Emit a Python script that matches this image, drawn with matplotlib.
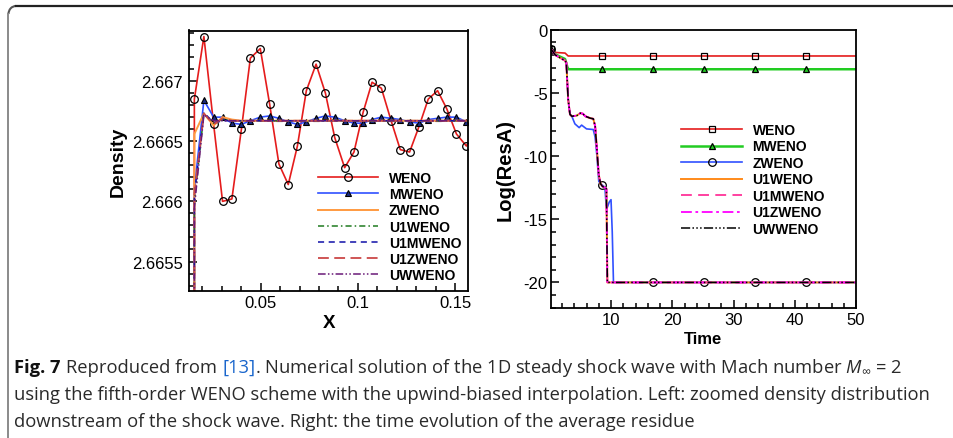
import numpy as np
import matplotlib
matplotlib.use("Agg")
import matplotlib.pyplot as plt
from matplotlib.ticker import MultipleLocator, FormatStrFormatter
from matplotlib.lines import Line2D
from matplotlib.patches import Arc

plt.rcParams['font.family'] = ['Liberation Sans', 'DejaVu Sans']
plt.rcParams['axes.unicode_minus'] = False
plt.rcParams['mathtext.fontset'] = 'custom'
plt.rcParams['mathtext.rm'] = 'Open Sans'
plt.rcParams['mathtext.it'] = 'Open Sans:italic'

# ---- left panel: density downstream of the shock ----
x_dens = [0.0111, 0.0159, 0.0208, 0.0258, 0.0304, 0.0352, 0.0401, 0.0447, 0.0498,
          0.0546, 0.0594, 0.0642, 0.0689, 0.0735, 0.0785, 0.0833, 0.0881, 0.0932,
          0.0980, 0.1027, 0.1073, 0.1121, 0.1171, 0.1218, 0.1266, 0.1314, 0.1362,
          0.1410, 0.1457, 0.1507, 0.1558, 0.1606]
rho_weno = [1.0, 2.66685, 2.66737, 2.66664, 2.66600, 2.66602, 2.66660, 2.66719, 2.66727,
            2.66681, 2.66631, 2.66614, 2.66646, 2.66692, 2.66714, 2.66690, 2.66653, 2.66628,
            2.66641, 2.66674, 2.66699, 2.66694, 2.66667, 2.66643, 2.66641, 2.66662, 2.66685,
            2.66692, 2.66677, 2.66656, 2.66646, 2.66660]
rho_mweno = [1.0, 2.66610, 2.66684, 2.66670, 2.66670, 2.66665, 2.66664, 2.66667, 2.66670,
             2.66671, 2.66669, 2.66666, 2.66664, 2.66666, 2.66669, 2.66671, 2.66670, 2.66667,
             2.66665, 2.66665, 2.66668, 2.66670, 2.66669, 2.66668, 2.66666, 2.66665, 2.66668,
             2.66669, 2.66670, 2.66670, 2.66666, 2.66667]
rho_zweno = [1.0, 2.66656, 2.66673, 2.66663, 2.66670, 2.66668] + [2.66667] * 26
rho_u1weno = [1.0, 2.66600, 2.66673, 2.66665, 2.66668] + [2.66667] * 27
rho_u1mweno = [1.0, 2.66605, 2.66674, 2.66665] + [2.66667] * 28
rho_u1zweno = [1.0, 2.66605, 2.66673, 2.66664, 2.66669] + [2.66667] * 27
rho_uwweno = [1.0, 2.66595, 2.66672] + [2.66667] * 29

# ---- right panel: residual history ----
t_weno = [0.2, 0.9, 2.5, 3.0, 8.55, 16.9, 25.2, 33.55, 41.9, 50]
res_weno = [-1.53, -1.8, -1.85, -2.08, -2.08, -2.08, -2.08, -2.08, -2.08, -2.08]
t_mweno = [0.2, 0.9, 2.5, 2.9, 3.1, 8.55, 16.9, 25.2, 33.55, 41.9, 50]
res_mweno = [-1.53, -1.95, -2.32, -3.0, -3.13, -3.13, -3.13, -3.13, -3.13, -3.13, -3.13]
t_zweno = [0.2, 0.9, 2.5, 2.7, 3.0, 3.3, 3.6, 4.1, 4.8, 5.2, 6.0, 7.1, 7.4, 7.7, 8.0,
           8.55, 9.0, 9.2, 9.4, 9.7, 10.0, 10.2, 10.4, 16.9, 25.2, 33.55, 41.9, 50]
res_zweno = [-1.53, -2.0, -2.45, -2.6, -5.5, -6.7, -6.85, -7.45, -7.75, -7.55, -7.85,
             -7.9, -8.5, -10.0, -12.0, -12.3, -12.45, -13.9, -14.05, -13.65, -13.45,
             -16.0, -20.0, -20.0, -20.0, -20.0, -20.0, -20.0]
t_upw = [0.2, 0.9, 2.5, 2.7, 3.0, 3.3, 3.6, 4.4, 5.0, 5.4, 5.8, 6.6, 7.1, 7.4, 7.7,
         8.0, 8.3, 8.6, 9.0, 9.25, 9.4, 50]
res_upw = [-1.53, -2.0, -2.45, -2.6, -5.5, -6.7, -6.85, -6.8, -6.6, -6.65, -6.85, -7.0,
           -7.05, -7.6, -9.5, -11.5, -12.2, -12.4, -12.5, -12.6, -20.0, -20.0]

W, H = 954, 439
fig = plt.figure(figsize=(W / 100, H / 100), dpi=100)

ax1 = fig.add_axes([189.5 / W, 1 - 292 / H, 278.8 / W, 260.5 / H])
ax2 = fig.add_axes([551 / W, 1 - 308.7 / H, 305 / W, 278 / H])

mk = dict(markerfacecolor='none', markeredgecolor='black', markeredgewidth=0.9)
ax1.plot(x_dens, rho_weno, color='#e51c1c', lw=1.2, marker='o', ms=5.5,
         markevery=slice(1, None), label='WENO', **mk)
ax1.plot(x_dens, rho_mweno, color='#3050ff', lw=1.2, marker='^', ms=5,
         markevery=slice(2, None), label='MWENO', markerfacecolor='#1a2a80',
         markeredgecolor='black', markeredgewidth=0.8)
ax1.plot(x_dens, rho_zweno, color='#ff9a40', lw=1.4, label='ZWENO')
ax1.plot(x_dens, rho_u1weno, color='#1f7a1f', lw=1.1, dashes=(4, 2, 1, 2), label='U1WENO')
ax1.plot(x_dens, rho_u1mweno, color='#1010a8', lw=1.1, dashes=(4, 3), label='U1MWENO')
ax1.plot(x_dens, rho_u1zweno, color='#cc4848', lw=1.3, dashes=(6, 3), label='U1ZWENO')
ax1.plot(x_dens, rho_uwweno, color='#6a1a78', lw=1.1, dashes=(5, 1.5, 1, 1.5, 1, 1.5),
         label='UWWENO')

ax1.set_xlim(0.0134, 0.1568)
ax1.set_ylim(2.665255, 2.66742)
ax1.xaxis.set_major_locator(MultipleLocator(0.05))
ax1.xaxis.set_minor_locator(MultipleLocator(0.01))
ax1.yaxis.set_major_locator(MultipleLocator(0.0005))
ax1.yaxis.set_minor_locator(MultipleLocator(0.0001))
ax1.xaxis.set_major_formatter(FormatStrFormatter('%g'))
ax1.yaxis.set_major_formatter(FormatStrFormatter('%g'))
ax1.set_xlabel('X', fontsize=13.5, fontweight='bold', labelpad=3)
ax1.set_ylabel('Density', fontsize=14, fontweight='bold', labelpad=4)

ax2.plot(t_weno, res_weno, color='#e51c1c', lw=1.2, marker='s', ms=5,
         markevery=[0, 4, 5, 6, 7, 8], label='WENO', **mk)
ax2.plot(t_mweno, res_mweno, color='#22cc22', lw=1.8, marker='^', ms=5,
         markevery=[0, 5, 6, 7, 8, 9], label='MWENO', markerfacecolor='#22cc22',
         markeredgecolor='black', markeredgewidth=0.9)
ax2.plot(t_zweno, res_zweno, color='#3050ff', lw=1.2, marker='o', ms=5.5,
         markevery=[0, 15, 23, 24, 25, 26], label='ZWENO', **mk)
ax2.plot(t_upw, res_upw, color='#ff8a1a', lw=1.4, label='U1WENO')
ax2.plot(t_upw, res_upw, color='#ff3399', lw=1.3, dashes=(6, 3.5), label='U1MWENO')
ax2.plot(t_upw, res_upw, color='#ff00ff', lw=1.3, dashes=(6, 2, 1.5, 2), label='U1ZWENO')
ax2.plot(t_upw, res_upw, color='black', lw=1.1, dashes=(6, 1.5, 1, 1.5, 1, 1.5, 1, 1.5),
         label='UWWENO')

ax2.set_xlim(0.2, 50)
ax2.set_ylim(-22, 0)
ax2.xaxis.set_major_locator(MultipleLocator(10))
ax2.xaxis.set_minor_locator(MultipleLocator(2))
ax2.yaxis.set_major_locator(MultipleLocator(5))
ax2.yaxis.set_minor_locator(MultipleLocator(1))
ax2.set_xlabel('Time', fontsize=12, fontweight='bold', labelpad=3)
ax2.set_ylabel('Log(ResA)', fontsize=14.5, fontweight='bold', labelpad=6)

for ax, ypad in ((ax1, 4.5), (ax2, 2.5)):
    for s in ax.spines.values():
        s.set_linewidth(1.3)
    ax.tick_params(which='both', direction='in', top=False, right=False, labelsize=12, width=1.1)
    ax.tick_params(which='major', length=6)
    ax.tick_params(which='minor', length=3.5)
    ax.tick_params(axis='y', pad=ypad)
    ax.tick_params(axis='x', pad=3)

leg_font = dict(weight='bold', size=10)
ax1.legend(loc='upper left', bbox_to_anchor=(318 / W, 1 - 172 / H), bbox_transform=fig.transFigure,
           frameon=False, prop=leg_font, handlelength=4.3, handletextpad=0.8,
           labelspacing=0.16, borderpad=0, borderaxespad=0)
ax2.legend(loc='upper left', bbox_to_anchor=(681 / W, 1 - 124 / H), bbox_transform=fig.transFigure,
           frameon=False, prop=leg_font, handlelength=4.4, handletextpad=0.75,
           labelspacing=0.18, borderpad=0, borderaxespad=0)

# ---- frame round the figure ----
fig.add_artist(Line2D([16 / W, 1], [1 - 7 / H, 1 - 7 / H], transform=fig.transFigure,
                      color='#222222', lw=1.6))
fig.add_artist(Line2D([8.5 / W, 8.5 / W], [0, 1 - 15 / H], transform=fig.transFigure,
                      color='#8a8a8a', lw=1.4))
fig.add_artist(Arc((16 / W, 1 - 15 / H), 15 / W, 16 / H, theta1=90, theta2=180,
                   transform=fig.transFigure, color='#555555', lw=1.5))

# ---- caption ----
cap_font = ['Open Sans', 'DejaVu Sans']
cap_size = 13.2
renderer = fig.canvas.get_renderer()


def put(xp, yp, s, **kw):
    t = fig.text(xp / W, 1 - yp / H, s, va='baseline', family=cap_font, fontsize=cap_size, **kw)
    return t.get_window_extent(renderer).x1


x = put(14, 373, 'Fig. 7', weight='bold', color='#111111')
x = put(x + 6, 373, 'Reproduced from ', color='#2a2a2a')
x = put(x, 373, '[13]', color='#1a66cc')
put(x, 373, '. Numerical solution of the 1D steady shock wave with Mach number $M_{\\infty}$ = 2',
    color='#2a2a2a')
put(14, 400, 'using the fifth-order WENO scheme with the upwind-biased interpolation. '
             'Left: zoomed density distribution', color='#2a2a2a')
put(14, 427, 'downstream of the shock wave. Right: the time evolution of the average residue',
    color='#2a2a2a')

fig.savefig('out.png', dpi=100)
